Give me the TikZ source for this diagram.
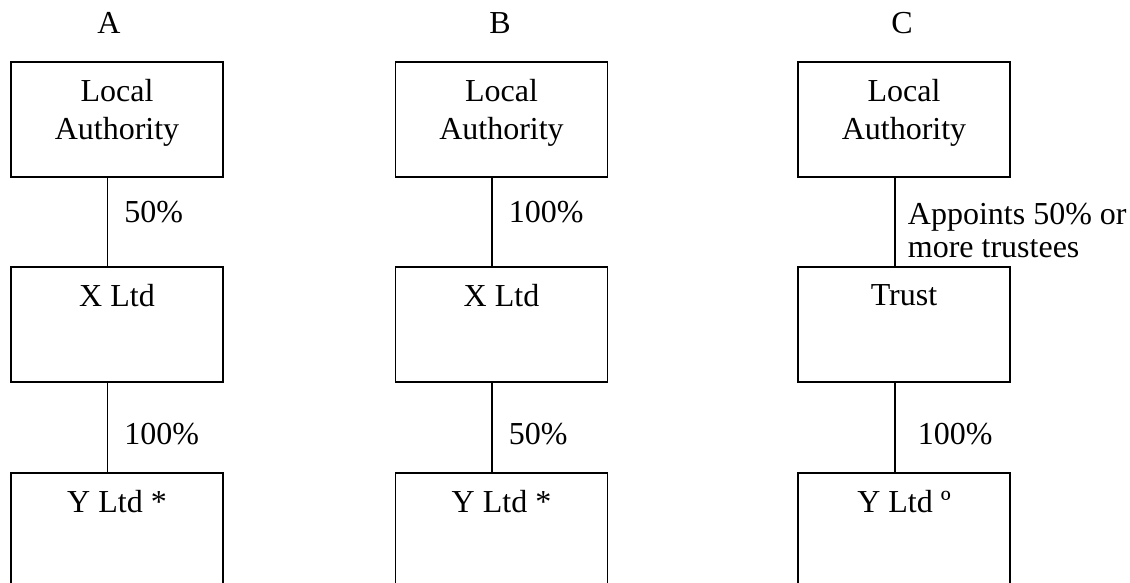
\documentclass[tikz,border=0pt]{standalone}
\usepackage{fontspec}
\setmainfont{Liberation Serif}
\usepackage{tikz}
\usetikzlibrary{positioning}

\tikzset{
  entity/.style={draw, line width=0.9pt, minimum width=106pt, minimum height=57.5pt, anchor=north, inner sep=0pt},
  entitytext/.style={font=\fontsize{16}{19}\selectfont, align=center, inner sep=0pt},
  share/.style={right, font=\fontsize{16}{16.7}\selectfont, align=left, inner sep=0pt, xshift=8pt},
  link/.style={line width=0.9pt}
}

\begin{document}
\begin{tikzpicture}[x=0.5pt,y=-0.5pt]
    \clip (0,0) rectangle (1130,583);
    % headings
    \node[entitytext] (ha) at (109,23) {A};
    \node[entitytext] (hb) at (500,23) {B};
    \node[entitytext] (hc) at (902,23) {C};
    % column A
    \node[entity] (a1) at (117,61) {};
    \node[entitytext, below=9pt of a1.north] (a1t) {Local\\Authority};
    \node[entity] (a2) at (117,266) {};
    \node[entitytext, below=9pt of a2.north] (a2t) {X Ltd};
    \node[entity] (a3) at (117,472) {};
    \node[entitytext, below=9pt of a3.north] (a3t) {Y Ltd *};
    % column B
    \node[entity] (b1) at (501.5,61) {};
    \node[entitytext, below=9pt of b1.north] (b1t) {Local\\Authority};
    \node[entity] (b2) at (501.5,266) {};
    \node[entitytext, below=9pt of b2.north] (b2t) {X Ltd};
    \node[entity] (b3) at (501.5,472) {};
    \node[entitytext, below=9pt of b3.north] (b3t) {Y Ltd *};
    % column C
    \node[entity] (c1) at (904,61) {};
    \node[entitytext, below=9pt of c1.north] (c1t) {Local\\Authority};
    \node[entity] (c2) at (904,266) {};
    \node[entitytext, below=9pt of c2.north] (c2t) {Trust};
    \node[entity] (c3) at (904,472) {};
    \node[entitytext, below=9pt of c3.north] (c3t) {Y Ltd º};
    % links
    \draw[link] ([xshift=-4.75pt]a1.south) -- node[share, pos=0.39] (a12) {50\%} ([xshift=-4.75pt]a2.north);
    \draw[link] ([xshift=-4.75pt]a2.south) -- node[share, pos=0.58] (a23) {100\%} ([xshift=-4.75pt]a3.north);
    \draw[link] ([xshift=-4.75pt]b1.south) -- node[share, pos=0.39] (b12) {100\%} ([xshift=-4.75pt]b2.north);
    \draw[link] ([xshift=-4.75pt]b2.south) -- node[share, pos=0.58] (b23) {50\%} ([xshift=-4.75pt]b3.north);
    \draw[link] ([xshift=-4.5pt]c1.south) -- node[share, pos=0.6, xshift=-2pt] (c12) {Appoints 50\% or\\more trustees} ([xshift=-4.5pt]c2.north);
    \draw[link] ([xshift=-4.5pt]c2.south) -- node[share, pos=0.58, xshift=3pt] (c23) {100\%} ([xshift=-4.5pt]c3.north);
\end{tikzpicture}
\end{document}
